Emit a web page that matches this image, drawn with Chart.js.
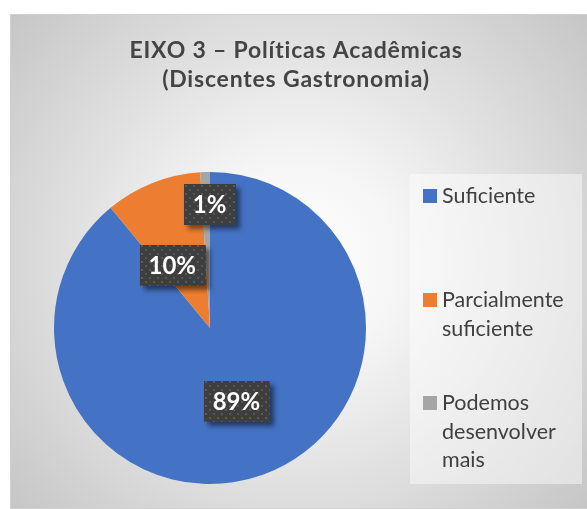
<!DOCTYPE html>
<html>
<head>
<meta charset="utf-8">
<script src="https://cdn.jsdelivr.net/npm/chart.js@4.4.1/dist/chart.umd.min.js"></script>
<style>
  body { margin: 0; background: #fff; }
  #box { width: 587px; height: 509px; }
</style>
</head>
<body>
<div id="box"><canvas id="grafica"></canvas></div>
<script>
// dados do grafico
const titleLines = ['EIXO 3 – Políticas Acadêmicas', '(Discentes Gastronomia)']
const categories = ['Suficiente', 'Parcialmente suficiente', 'Podemos desenvolver mais']
const percents = [89, 10, 1]
const colors = ['#4472C4', '#ED7D31', '#A5A5A5']

const fontFam = 'Lato, "Open Sans", sans-serif'
// deslocamento dos rotulos (como o Excel ajustou)
const labelNudge = [[0, 0], [-9, 10], [2, -46]]

let tile = document.createElement('canvas')
tile.width = 8; tile.height = 8
let tc = tile.getContext('2d')
tc.fillStyle = '#3e3e3e'
tc.fillRect(0, 0, 8, 8)
tc.fillStyle = '#575757'
tc.fillRect(1, 1, 2, 2)
tc.fillRect(5, 5, 2, 2)

function wrap(ctx, text, maxW) {
    let words = text.split(' ')
    let lines = []
    let cur = ''
    words.forEach(w => {
        let test = cur ? cur + ' ' + w : w
        if (cur && ctx.measureText(test).width > maxW) {
            lines.push(cur)
            cur = w
        } else {
            cur = test
        }
    })
    lines.push(cur)
    return lines
}

const moldura = {
    id: 'moldura',
    beforeDraw(chart) {
        let ctx = chart.ctx
        ctx.save()
        ctx.fillStyle = '#fff'
        ctx.fillRect(0, 0, chart.width, chart.height)
        let g = ctx.createRadialGradient(298, 262, 0, 298, 262, 390)
        g.addColorStop(0, '#ffffff')
        g.addColorStop(0.25, '#f6f6f6')
        g.addColorStop(1, '#c4c4c4')
        ctx.fillStyle = g
        ctx.fillRect(10, 14, 577, 494)
        ctx.strokeStyle = '#d0d0d0'
        ctx.lineWidth = 1
        ctx.strokeRect(10.5, 14.5, 577, 494)

        // titulo
        ctx.save()
        ctx.fillStyle = '#444444'
        ctx.font = 'bold 23px ' + fontFam
        ctx.letterSpacing = '0.8px'
        ctx.textAlign = 'center'
        ctx.textBaseline = 'alphabetic'
        titleLines.forEach((t, i) => ctx.fillText(t, 296, 58 + i * 29))
        ctx.restore()

        // legenda
        ctx.fillStyle = 'rgba(255,255,255,0.45)'
        ctx.fillRect(410, 174, 172, 310)
        ctx.font = '21.5px ' + fontFam
        ctx.textAlign = 'left'
        let tops = [203, 307, 410]
        categories.forEach((c, i) => {
            ctx.fillStyle = colors[i]
            ctx.fillRect(423, tops[i] - 14, 14, 14)
            ctx.fillStyle = '#404040'
            wrap(ctx, c, 138).forEach((l, j) => ctx.fillText(l, 442, tops[i] + j * 28.5))
        })
        ctx.restore()
    },
    afterDatasetsDraw(chart) {
        let ctx = chart.ctx
        let arcs = chart.getDatasetMeta(0).data
        ctx.save()
        ctx.font = 'bold 24px ' + fontFam
        ctx.textAlign = 'center'
        ctx.textBaseline = 'middle'
        arcs.forEach((a, i) => {
            let p = a.tooltipPosition()
            let x = p.x + labelNudge[i][0]
            let y = p.y + labelNudge[i][1]
            let txt = percents[i] + '%'
            let w = ctx.measureText(txt).width + 18
            let h = 41
            ctx.save()
            ctx.shadowColor = 'rgba(0,0,0,0.5)'
            ctx.shadowOffsetX = 4
            ctx.shadowOffsetY = 4
            ctx.shadowBlur = 5
            ctx.fillStyle = ctx.createPattern(tile, 'repeat')
            ctx.fillRect(Math.round(x - w / 2), Math.round(y - h / 2), Math.round(w), h)
            ctx.restore()
            ctx.fillStyle = '#ffffff'
            ctx.fillText(txt, x, y + 1)
        })
        ctx.restore()
    }
}

new Chart(document.getElementById('grafica'), {
    type: 'pie',
    data: {
        labels: categories,
        datasets: [{
            data: percents,
            backgroundColor: colors,
            borderWidth: 0
        }]
    },
    options: {
        responsive: true,
        maintainAspectRatio: false,
        animation: false,
        layout: { padding: { left: 54, right: 221, top: 172, bottom: 25 } },
        plugins: {
            legend: { display: false },
            tooltip: { enabled: false },
            title: { display: false }
        }
    },
    plugins: [moldura]
})
</script>
</body>
</html>
